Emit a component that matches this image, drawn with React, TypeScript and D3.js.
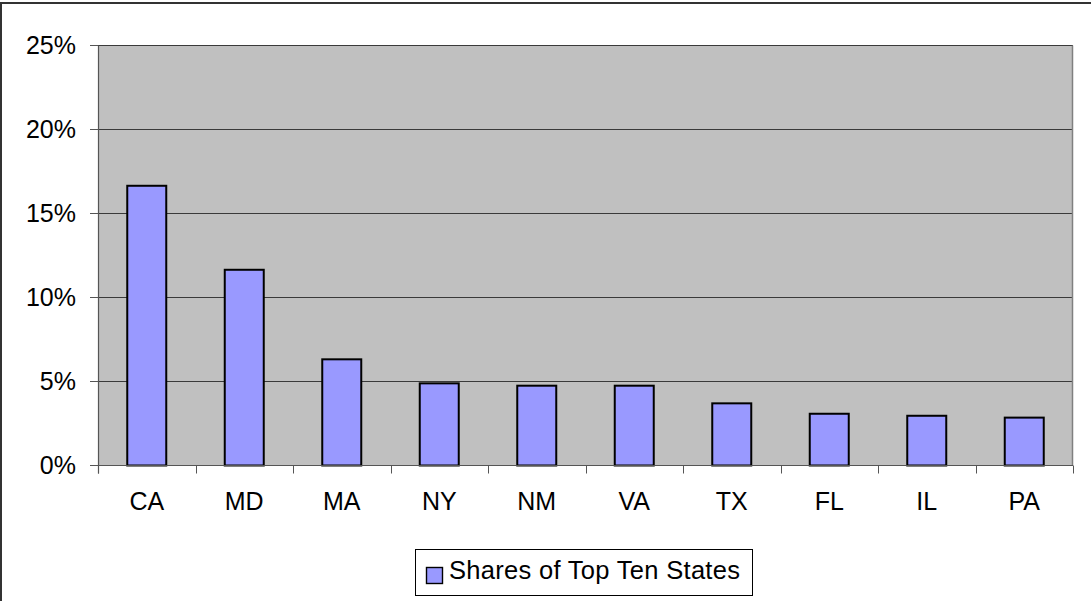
import React from "react";
import * as d3 from "d3";

const categories = ["CA", "MD", "MA", "NY", "NM", "VA", "TX", "FL", "IL", "PA"];
const shares = [0.1665, 0.1165, 0.0632, 0.0489, 0.0475, 0.0475, 0.037, 0.0308, 0.0296, 0.0285];
const yTicks = [0, 0.05, 0.1, 0.15, 0.2, 0.25];
const seriesName = "Shares of Top Ten States";

const W = 1091;
const H = 601;
const FONT = "'Liberation Sans', Arial, Helvetica, sans-serif";

export default function App() {
  const x = d3
    .scaleBand<string>()
    .domain(categories)
    .range([98, 1073])
    .paddingInner(0.6)
    .paddingOuter(0.3);
  const y = d3.scaleLinear().domain([0, 0.25]).range([465.5, 45.5]);
  const step = x.step();
  const left = x.range()[0];
  const right = x.range()[1];
  const fmt = d3.format(".0%");

  return (
    <svg
      width={W}
      height={H}
      style={{ position: "fixed", left: 0, top: 0, background: "#fff" }}
      fontFamily={FONT}
    >
      {/* chart frame */}
      <rect x={1} y={3} width={W + 20} height={H + 20} fill="#fff" stroke="#333" strokeWidth={2} />
      {/* plot area */}
      <rect x={left} y={y(0.25)} width={right - left} height={y(0) - y(0.25)} fill="#C0C0C0" />
      {/* gridlines */}
      {yTicks.map((t) => (
        <line key={"g" + t} x1={left} x2={right} y1={y(t)} y2={y(t)} stroke="#3a3a3a" strokeWidth={1.2} />
      ))}
      {/* plot right border */}
      <line x1={right - 0.5} x2={right - 0.5} y1={y(0.25)} y2={y(0)} stroke="#808080" strokeWidth={1.5} />
      {/* bars */}
      {categories.map((c, i) => (
        <rect
          key={c}
          x={x(c)!}
          y={y(shares[i])}
          width={x.bandwidth()}
          height={y(0) - y(shares[i])}
          fill="#9999FF"
          stroke="#000"
          strokeWidth={2}
        />
      ))}
      {/* y axis */}
      <line x1={left + 0.5} x2={left + 0.5} y1={y(0.25)} y2={y(0) + 8} stroke="#555" strokeWidth={1.2} />
      {yTicks.map((t) => (
        <g key={"yt" + t}>
          <line x1={90} x2={left} y1={y(t)} y2={y(t)} stroke="#555" strokeWidth={1} />
          <text x={76} y={y(t) + 8.5} textAnchor="end" fontSize={25} fill="#000">
            {fmt(t)}
          </text>
        </g>
      ))}
      {/* x axis */}
      <line x1={left} x2={right} y1={y(0)} y2={y(0)} stroke="#555" strokeWidth={1} />
      {d3.range(categories.length + 1).map((i) => (
        <line
          key={"xt" + i}
          x1={Math.round(left + i * step) + 0.5}
          x2={Math.round(left + i * step) + 0.5}
          y1={y(0)}
          y2={y(0) + 8}
          stroke="#555"
          strokeWidth={1}
        />
      ))}
      {categories.map((c) => (
        <text key={"xl" + c} x={x(c)! + x.bandwidth() / 2} y={510} textAnchor="middle" fontSize={25} fill="#000">
          {c}
        </text>
      ))}
      {/* legend */}
      <rect x={415.5} y={549.5} width={337} height={46} fill="#fff" stroke="#000" strokeWidth={1} />
      <rect x={426.5} y={567.5} width={16} height={16} fill="#9999FF" stroke="#000" strokeWidth={1.4} />
      <text x={449} y={579} fontSize={25.5} fill="#000" textLength={291} lengthAdjust="spacing">
        {seriesName}
      </text>
    </svg>
  );
}
